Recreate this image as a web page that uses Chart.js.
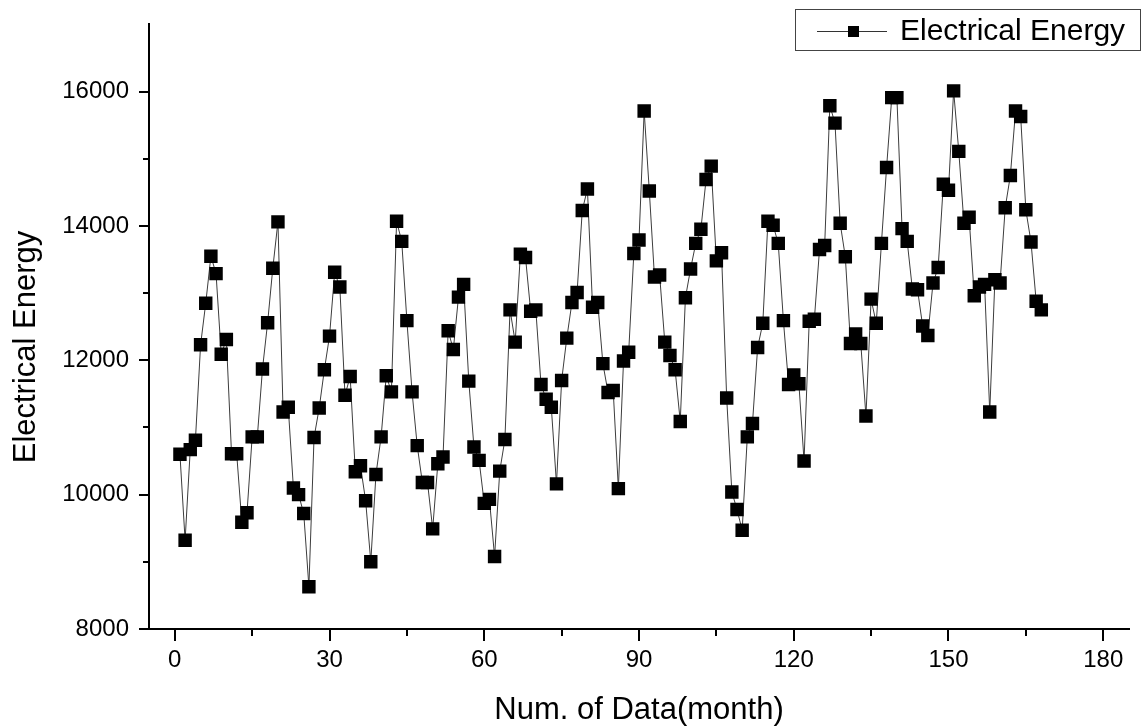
<!DOCTYPE html>
<html>
<head>
<meta charset="utf-8">
<script src="https://cdn.jsdelivr.net/npm/chart.js@4.4.0/dist/chart.umd.min.js"></script>
<style>
  html, body { margin: 0; padding: 0; background: #fff; }
  #wrap { width: 1143px; height: 727px; }
</style>
</head>
<body>
<div id="wrap"><canvas id="myChart" width="1143" height="727"></canvas></div>
<script>
// monthly electrical energy, month 1 .. 168
var energy = [
  10600, 9320, 10670, 10810, 12230, 12850, 13550, 13290, 12090, 12310,
  10610, 10610, 9590, 9730, 10860, 10860, 11870, 12560, 13370, 14060,
  11230, 11300, 10100, 10000, 9720, 8630, 10850, 11290, 11860, 12360,
  13310, 13090, 11480, 11760, 10340, 10430, 9910, 9000, 10300, 10860,
  11770, 11530, 14070, 13770, 12590, 11530, 10730, 10180, 10180, 9490,
  10460, 10560, 12440, 12160, 12940, 13130, 11690, 10710, 10510, 9870,
  9930, 9080, 10350, 10820, 12750, 12270, 13580, 13530, 12730, 12750,
  11640, 11420, 11300, 10160, 11700, 12330, 12860, 13010, 14230, 14550,
  12790, 12860, 11950, 11520, 11550, 10090, 11990, 12120, 13590, 13790,
  15710, 14520, 13240, 13270, 12270, 12070, 11860, 11090, 12930, 13360,
  13740, 13950, 14690, 14890, 13480, 13600, 11440, 10040, 9780, 9470,
  10860, 11060, 12190, 12550, 14070, 14010, 13740, 12590, 11640, 11780,
  11650, 10500, 12580, 12610, 13650, 13710, 15790, 15530, 14040, 13540,
  12250, 12390, 12250, 11170, 12910, 12550, 13740, 14870, 15910, 15910,
  13960, 13770, 13060, 13050, 12510, 12370, 13150, 13380, 14620, 14530,
  16010, 15110, 14040, 14130, 12960, 13090, 13130, 11230, 13200, 13150,
  14270, 14750, 15710, 15630, 14240, 13760, 12880, 12750
];
var xTicks = [0, 30, 60, 90, 120, 150, 180];
var xMinor = [15, 45, 75, 105, 135, 165];
var yTicks = [8000, 10000, 12000, 14000, 16000];
var yMinor = [9000, 11000, 13000, 15000];

var seriesName = "Electrical Energy";
var xTitle = "Num. of Data(month)";
var yTitle = "Electrical Energy";

var FONT = "'Liberation Sans', Arial, sans-serif";

var points = energy.map(function(v, i) { return { x: i + 1, y: v }; });

// ticks, axis titles and the boxed legend, drawn like the original
var decor = {
  id: 'decor',
  afterDraw: function(chart) {
    var ctx = chart.ctx;
    var xs = chart.scales.x, ys = chart.scales.y;
    var area = chart.chartArea;
    ctx.save();
    ctx.strokeStyle = '#000';
    ctx.lineWidth = 2;
    ctx.beginPath();
    yTicks.forEach(function(v) {
      var p = Math.round(ys.getPixelForValue(v));
      ctx.moveTo(area.left - 10, p); ctx.lineTo(area.left, p);
    });
    yMinor.forEach(function(v) {
      var p = Math.round(ys.getPixelForValue(v));
      ctx.moveTo(area.left - 6, p); ctx.lineTo(area.left, p);
    });
    xTicks.forEach(function(v) {
      var p = Math.round(xs.getPixelForValue(v));
      ctx.moveTo(p, area.bottom); ctx.lineTo(p, area.bottom + 12);
    });
    xMinor.forEach(function(v) {
      var p = Math.round(xs.getPixelForValue(v));
      ctx.moveTo(p, area.bottom); ctx.lineTo(p, area.bottom + 7);
    });
    ctx.stroke();

    // axis titles
    ctx.fillStyle = '#000';
    ctx.font = '31px ' + FONT;
    ctx.textAlign = 'center';
    ctx.textBaseline = 'alphabetic';
    ctx.fillText(xTitle, (area.left + area.right) / 2, 719);
    ctx.save();
    ctx.translate(35, 347);
    ctx.rotate(-Math.PI / 2);
    ctx.fillText(yTitle, 0, 0);
    ctx.restore();

    // legend
    ctx.lineWidth = 1;
    ctx.strokeStyle = '#444';
    ctx.strokeRect(795.5, 9.5, 345, 41);
    ctx.strokeStyle = '#333';
    ctx.beginPath();
    ctx.moveTo(817, 31.5); ctx.lineTo(887, 31.5);
    ctx.stroke();
    ctx.fillStyle = '#000';
    ctx.fillRect(848, 26, 11, 11);
    ctx.font = '30px ' + FONT;
    ctx.textAlign = 'left';
    ctx.fillText(seriesName, 900, 40);
    ctx.restore();
  }
};

var tickFont = { family: FONT, size: 24 };

var config = {
  type: 'line',
  data: {
    datasets: [{
      label: seriesName,
      data: points,
      borderColor: '#3c3c3c',
      borderWidth: 1,
      pointStyle: 'rect',
      pointRadius: 9.5,
      pointHoverRadius: 9.5,
      pointBackgroundColor: '#000',
      pointBorderColor: '#000',
      pointBorderWidth: 0,
      tension: 0,
      fill: false
    }]
  },
  options: {
    responsive: false,
    animation: false,
    devicePixelRatio: 1,
    layout: { padding: { top: 23, right: 14, left: 0, bottom: 0 } },
    plugins: {
      legend: { display: false },
      tooltip: { enabled: false }
    },
    scales: {
      x: {
        type: 'linear',
        min: -5,
        max: 185,
        afterBuildTicks: function(s) { s.ticks = xTicks.map(function(v) { return { value: v }; }); },
        afterFit: function(s) { s.height = 98; },
        grid: { display: true, drawOnChartArea: false, color: 'rgba(0,0,0,0)', drawTicks: true, tickLength: 12 },
        border: { display: true, color: '#000', width: 2 },
        ticks: {
          font: tickFont, color: '#000', padding: 5, maxRotation: 0, autoSkip: false,
          callback: function(v) { return String(v); }
        }
      },
      y: {
        type: 'linear',
        min: 8000,
        max: 17000,
        afterBuildTicks: function(s) { s.ticks = yTicks.map(function(v) { return { value: v }; }); },
        afterFit: function(s) { s.width = 149; },
        grid: { display: true, drawOnChartArea: false, color: 'rgba(0,0,0,0)', drawTicks: true, tickLength: 10 },
        border: { display: true, color: '#000', width: 2 },
        ticks: {
          font: tickFont, color: '#000', padding: 10, autoSkip: false,
          callback: function(v) { return String(v); }
        }
      }
    }
  },
  plugins: [decor]
};

var myChart = new Chart(document.getElementById('myChart'), config);
</script>
</body>
</html>
